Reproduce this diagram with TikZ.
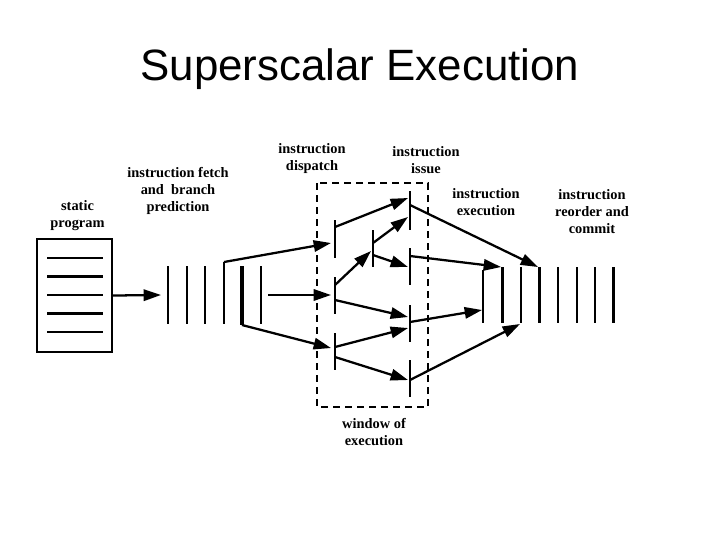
\documentclass[tikz,border=0pt]{standalone}
\usepackage{fontspec}
\setmainfont{Liberation Serif}
\newfontfamily\titlefont{Liberation Sans}
\usetikzlibrary{arrows.meta}
\tikzset{
  lbl/.style={font=\bfseries\fontsize{10.8}{12.75}\selectfont, align=center, inner sep=0pt},
  bar/.style={line width=1.7pt},
  thickbar/.style={line width=2.7pt},
  conn/.style={line width=1.7pt, -{Triangle[length=13pt,width=8.5pt]}},
  plain/.style={line width=1.7pt},
}
\begin{document}
\begin{tikzpicture}[x=0.75pt,y=-0.75pt]
\useasboundingbox (0,0) rectangle (720,540);
% title
\node[font=\titlefont\fontsize{32.9}{40}\selectfont] (title) at (360,69) {Superscalar Execution};
% labels
\node[lbl] (lprog) at (77.5,215.5) {static\\program};
\node[lbl] (lfetch) at (178,190.5) {instruction fetch\\and\ \ branch\\prediction};
\node[lbl] (ldisp) at (312,159) {instruction\\dispatch};
\node[lbl] (lissue) at (426,160.5) {instruction\\issue};
\node[lbl] (lexec) at (486,202.5) {instruction\\execution};
\node[lbl] (lcommit) at (592,211.5) {instruction\\reorder and\\commit};
\node[lbl] (lwin) at (374,432.5) {window of\\execution};
% static program
\node[draw, line width=1.7pt, minimum width=56.25pt, minimum height=84.75pt, inner sep=0pt] (prog) at (74.5,295.5) {};
\foreach \y in {258,276.5,295,313.5,332} \draw[plain] (47,\y) -- (103,\y);
\coordinate (fin) at (161,295);
\draw[conn] (prog.east) -- (fin);
% fetch buffer
\foreach \x in {168,187,205,261} \draw[bar] (\x,266) -- (\x,324);
\draw[bar] (224,262) -- (224,324);
\draw[thickbar] (242,266) -- (242,325);
% window of execution
\draw[line width=1.8pt, dash pattern=on 5.5pt off 3.5pt] (317,183) rectangle (428,407);
% dispatch bars
\draw[bar] (335,220) -- (335,258);
\draw[bar] (335,277) -- (335,314);
\draw[bar] (335,333) -- (335,370);
\draw[bar] (373,230) -- (373,267);
% issue bars
\draw[bar] (410,191) -- (410,230);
\draw[bar] (410,248) -- (410,285);
\draw[bar] (410,305) -- (410,342);
\draw[bar] (410,360) -- (410,397);
% execution / commit bars
\draw[bar] (483,270) -- (483,323);
\foreach \x in {502.5,521,539.5,558,577,595,613.5} \draw[bar] (\x,267) -- (\x,323);
% connector end points
\coordinate (f4) at (224,262);
\coordinate (fm) at (268,295);
\coordinate (f5) at (242,325);
\coordinate (dA) at (331,243);
\coordinate (dB) at (331,295);
\coordinate (dC) at (331,348);
\coordinate (dAo) at (335,227);
\coordinate (dBo1) at (335,285);
\coordinate (dBo2) at (335,300);
\coordinate (dCo1) at (335,347);
\coordinate (dCo2) at (335,357);
\coordinate (mi) at (371,251);
\coordinate (mo1) at (373,243);
\coordinate (mo2) at (373,255);
\coordinate (i1a) at (408,198);
\coordinate (i1b) at (408,217);
\coordinate (i2) at (408,267);
\coordinate (i3a) at (408,317);
\coordinate (i3b) at (408,328);
\coordinate (i4) at (408,380);
\coordinate (o1) at (410,205);
\coordinate (o2) at (410,256);
\coordinate (o3) at (410,322);
\coordinate (o4) at (410,380);
\coordinate (e1) at (482,310);
\coordinate (e2) at (501,267);
\coordinate (e3) at (520,324);
\coordinate (e4) at (538,267);
% connectors
\draw[conn] (f4) -- (dA);
\draw[conn] (fm) -- (dB);
\draw[conn] (f5) -- (dC);
\draw[conn] (dAo) -- (i1a);
\draw[conn] (dBo1) -- (mi);
\draw[conn] (mo1) -- (i1b);
\draw[conn] (mo2) -- (i2);
\draw[conn] (dBo2) -- (i3a);
\draw[conn] (dCo1) -- (i3b);
\draw[conn] (dCo2) -- (i4);
\draw[conn] (o1) -- (e4);
\draw[conn] (o2) -- (e2);
\draw[conn] (o3) -- (e1);
\draw[conn] (o4) -- (e3);
\end{tikzpicture}
\end{document}
